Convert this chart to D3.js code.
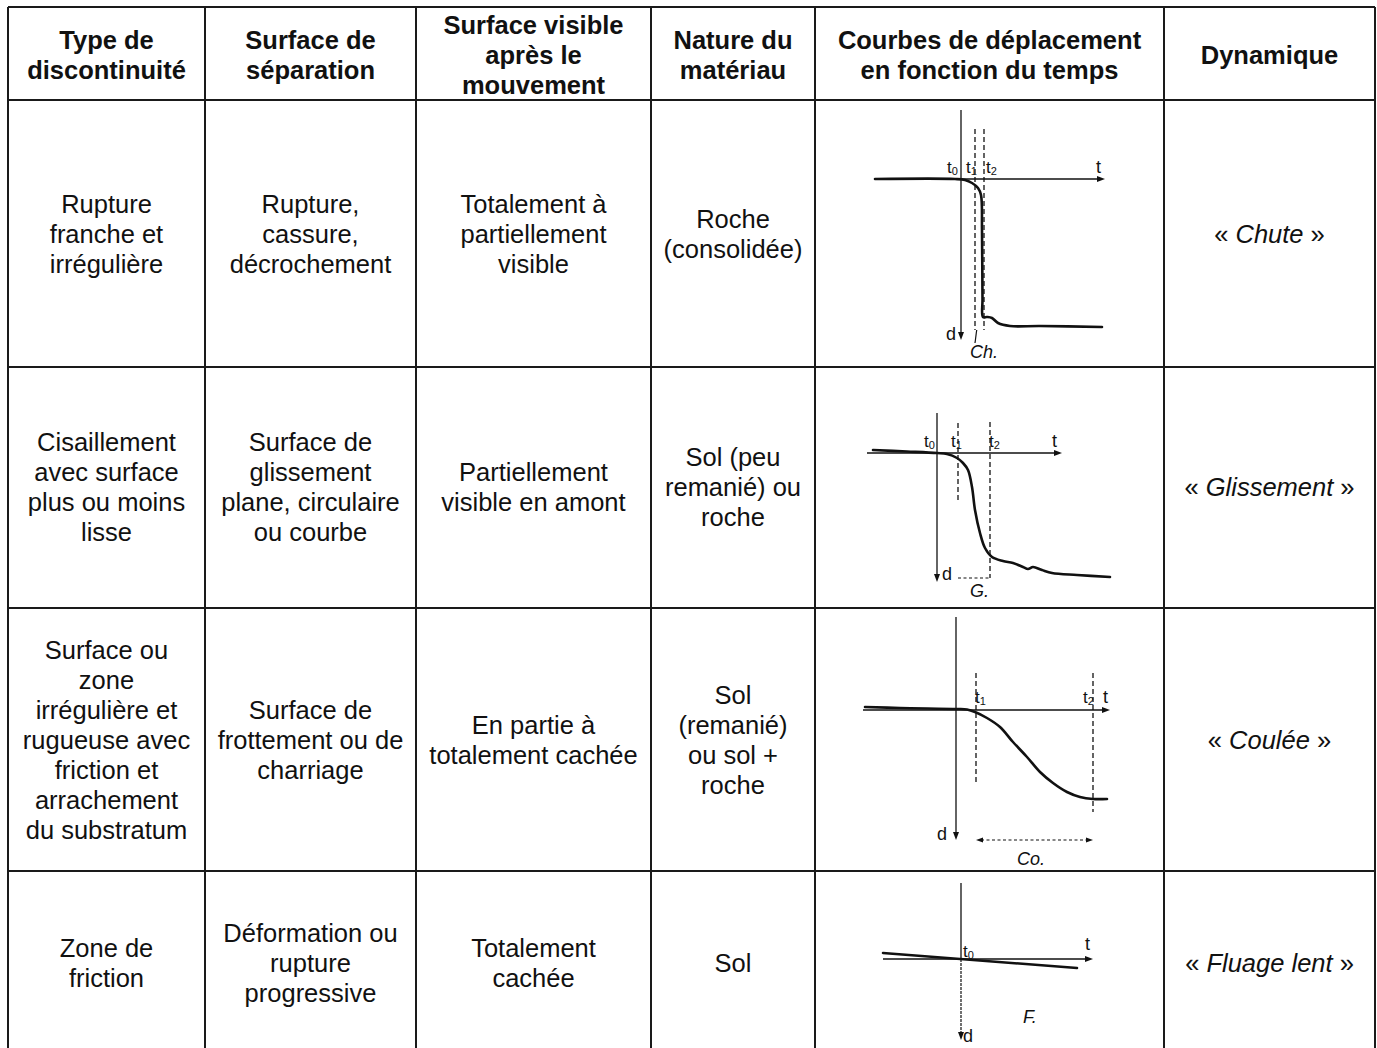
<!DOCTYPE html>
<html>
<head>
<meta charset="utf-8">
<script src="https://cdn.jsdelivr.net/npm/d3@7"></script>
<style>
  html, body { margin: 0; padding: 0; background: #fff; }
  svg { display: block; }
</style>
</head>
<body>
<svg id="chart" width="1377" height="1048"></svg>
<script>
// ---------------- DATA ----------------
const headers = [
  ["Type de", "discontinuité"],
  ["Surface de", "séparation"],
  ["Surface visible", "après le", "mouvement"],
  ["Nature du", "matériau"],
  ["Courbes de déplacement", "en fonction du temps"],
  ["Dynamique"]
];
const typeDiscontinuite = [
  ["Rupture", "franche et", "irrégulière"],
  ["Cisaillement", "avec surface", "plus ou moins", "lisse"],
  ["Surface ou", "zone", "irrégulière et", "rugueuse avec", "friction et", "arrachement", "du substratum"],
  ["Zone de", "friction"]
];
const surfaceSeparation = [
  ["Rupture,", "cassure,", "décrochement"],
  ["Surface de", "glissement", "plane, circulaire", "ou courbe"],
  ["Surface de", "frottement ou de", "charriage"],
  ["Déformation ou", "rupture", "progressive"]
];
const surfaceVisible = [
  ["Totalement à", "partiellement", "visible"],
  ["Partiellement", "visible en amont"],
  ["En partie à", "totalement cachée"],
  ["Totalement", "cachée"]
];
const natureMateriau = [
  ["Roche", "(consolidée)"],
  ["Sol (peu", "remanié) ou", "roche"],
  ["Sol", "(remanié)", "ou sol +", "roche"],
  ["Sol"]
];
const dynamique = ["Chute", "Glissement", "Coulée", "Fluage lent"];
const curveCodes = ["Ch.", "G.", "Co.", "F."];

// displacement curves: [t, d] (t0 = 0, d positive downward)
const chuteCurve = [[-8.6,0],[-0.6,0],[0.4,0.1],[1.1,0.4],[1.7,0.9],[2.0,1.6],[2.1,5.1],[2.15,12],[2.2,13.8],[2.6,13.8],[3.1,13.9],[3.7,14.4],[4.9,14.7],[7.9,14.7],[14.1,14.8]];
const glissementCurve = [[-6.4,-0.3],[-3,-0.15],[0,0],[1.0,0.1],[2.0,0.5],[2.6,1.0],[3.1,1.7],[3.5,3.4],[3.8,5.7],[4.3,8.0],[4.8,9.5],[5.5,10.4],[6.6,10.8],[7.6,11.0],[8.6,11.4],[9.1,11.6],[9.6,11.4],[10.5,11.7],[11.5,12.0],[14.0,12.2],[17.3,12.4]];
const couleeCurve = [[-9.1,-0.3],[-5.6,-0.2],[0.1,-0.1],[1.1,-0.05],[1.9,0.2],[3.1,0.8],[4.4,1.7],[5.7,3.2],[7.1,4.7],[8.4,6.2],[9.7,7.3],[11.1,8.2],[12.4,8.7],[13.7,8.9],[15.1,8.9]];
const fluageCurve = [[-7.8,-0.6],[11.6,0.9]];

// characteristic times t1, t2 per curve
const chuteTimes = [1.4, 2.3];
const glissementTimes = [2.1, 5.3];
const couleeTimes = [2.0, 13.7];

// ---------------- LAYOUT ----------------
const svg = d3.select("#chart");
const colX = [8, 205, 416, 651, 815, 1164, 1375];
const rowY = [7, 100, 367, 608, 871];
const rowCenters = [234, 487, 740, 963];
const headerCenter = 54.5;
const lineH = 30;
const FS = 25.5;
const FONT = "'Liberation Sans', Arial, Helvetica, sans-serif";

// grid
const grid = svg.append("g").attr("stroke", "#1a1a1a").attr("stroke-width", 2);
grid.selectAll("line.v").data(colX).join("line")
  .attr("x1", d => d).attr("x2", d => d).attr("y1", rowY[0]).attr("y2", 1048);
grid.selectAll("line.h").data(rowY).join("line")
  .attr("x1", colX[0]).attr("x2", colX[colX.length - 1]).attr("y1", d => d).attr("y2", d => d);

function colCenter(i) { return (colX[i] + colX[i + 1]) / 2; }

function block(lines, cx, cy, bold) {
  const n = lines.length;
  const t = svg.append("text")
    .attr("font-family", FONT)
    .attr("font-size", FS)
    .attr("font-weight", bold ? "bold" : "normal")
    .attr("text-anchor", "middle")
    .attr("fill", "#111");
  lines.forEach((s, i) => {
    t.append("tspan")
      .attr("x", cx)
      .attr("y", cy + (i - (n - 1) / 2) * lineH)
      .attr("dy", "0.36em")
      .text(s);
  });
}

headers.forEach((h, i) => block(h, colCenter(i), headerCenter, true));
[typeDiscontinuite, surfaceSeparation, surfaceVisible, natureMateriau].forEach((col, ci) => {
  col.forEach((lines, ri) => block(lines, colCenter(ci), rowCenters[ri], false));
});
dynamique.forEach((d, ri) => {
  const t = svg.append("text")
    .attr("font-family", FONT).attr("font-size", FS)
    .attr("text-anchor", "middle").attr("fill", "#111")
    .attr("x", colCenter(5)).attr("y", rowCenters[ri]).attr("dy", "0.36em");
  t.append("tspan").text("« ");
  t.append("tspan").attr("font-style", "italic").text(d);
  t.append("tspan").text(" »");
});

// ---------------- MINI CHARTS ----------------
const PX = 10; // pixels per unit
const charts = [
  { origin: [961, 179], tExt: [-8.6, 14.4], dExt: [-6.9, 16.1], curve: chuteCurve, smooth: true,
    times: chuteTimes, dash: [[-5, 15.1], [-5, 15.1]], span: null,
    labels: [
      { t: -1.4, d: -0.6, base: "t", sub: "0" },
      { t: 0.5, d: -0.6, base: "t", sub: "1" },
      { t: 2.5, d: -0.6, base: "t", sub: "2" },
      { t: 13.5, d: -0.6, base: "t", big: true },
      { t: -1.5, d: 16.1, base: "d", big: true },
      { t: 0.9, d: 17.9, code: 0 }
    ], slash: [[1.57, 15.1], [1.4, 16.4]] },
  { origin: [937, 453], tExt: [-7, 12.5], dExt: [-4, 12.9], curve: glissementCurve, smooth: true,
    times: glissementTimes, dash: [[-3, 4.9], [-3.1, 12.5]], span: { d: 12.5, arrows: false },
    labels: [
      { t: -1.3, d: -0.6, base: "t", sub: "0" },
      { t: 1.4, d: -0.6, base: "t", sub: "1" },
      { t: 5.2, d: -0.6, base: "t", sub: "2" },
      { t: 11.5, d: -0.6, base: "t", big: true },
      { t: 0.5, d: 12.7, base: "d", big: true },
      { t: 3.3, d: 14.4, code: 1 }
    ] },
  { origin: [956, 710], tExt: [-9.3, 15.4], dExt: [-9.3, 13], curve: couleeCurve, smooth: true,
    times: couleeTimes, dash: [[-3.7, 7.5], [-3.7, 10.2]], span: { d: 13, arrows: true },
    labels: [
      { t: 1.9, d: -0.7, base: "t", sub: "1" },
      { t: 12.7, d: -0.7, base: "t", sub: "2" },
      { t: 14.7, d: -0.7, base: "t", big: true },
      { t: -1.9, d: 13, base: "d", big: true },
      { t: 6.1, d: 15.5, code: 2 }
    ] },
  { origin: [961, 959], tExt: [-7.8, 13.2], dExt: [-7.6, 8.1], curve: fluageCurve, smooth: false,
    times: [], dash: [], span: null, dottedBelow: true,
    labels: [
      { t: 0.2, d: -0.2, base: "t", sub: "0" },
      { t: 12.4, d: -0.9, base: "t", big: true },
      { t: 0.2, d: 8.3, base: "d", big: true },
      { t: 6.2, d: 6.4, code: 3 }
    ] }
];

charts.forEach(c => {
  const [ox, oy] = c.origin;
  const x = d3.scaleLinear().domain(c.tExt).range([ox + c.tExt[0] * PX, ox + c.tExt[1] * PX]);
  const y = d3.scaleLinear().domain(c.dExt).range([oy + c.dExt[0] * PX, oy + c.dExt[1] * PX]);
  const g = svg.append("g");
  const ink = "#111";

  // t axis
  g.append("line").attr("x1", x(c.tExt[0])).attr("x2", x(c.tExt[1]) - 4)
    .attr("y1", y(0)).attr("y2", y(0)).attr("stroke", ink).attr("stroke-width", 1.3);
  const ax = x(c.tExt[1]), ay = y(0);
  g.append("path").attr("d", `M${ax},${ay} L${ax - 8},${ay - 3} L${ax - 8},${ay + 3} Z`).attr("fill", ink);

  // d axis
  if (c.dottedBelow) {
    g.append("line").attr("x1", x(0)).attr("x2", x(0)).attr("y1", y(c.dExt[0])).attr("y2", y(0))
      .attr("stroke", ink).attr("stroke-width", 1.3);
    g.append("line").attr("x1", x(0)).attr("x2", x(0)).attr("y1", y(0)).attr("y2", y(c.dExt[1]) - 4)
      .attr("stroke", ink).attr("stroke-width", 1.2).attr("stroke-dasharray", "3,1");
  } else {
    g.append("line").attr("x1", x(0)).attr("x2", x(0)).attr("y1", y(c.dExt[0])).attr("y2", y(c.dExt[1]) - 4)
      .attr("stroke", ink).attr("stroke-width", 1.3);
  }
  const bx = x(0), by = y(c.dExt[1]);
  g.append("path").attr("d", `M${bx},${by} L${bx - 3},${by - 8} L${bx + 3},${by - 8} Z`).attr("fill", ink);

  // dashed time markers
  c.times.forEach((tv, i) => {
    g.append("line").attr("x1", x(tv)).attr("x2", x(tv))
      .attr("y1", y(c.dash[i][0])).attr("y2", y(c.dash[i][1]))
      .attr("stroke", ink).attr("stroke-width", 1.3).attr("stroke-dasharray", "5,3");
  });

  // span between t1 and t2
  if (c.span) {
    const sy = y(c.span.d);
    const x1 = x(c.times[0]), x2 = x(c.times[1]);
    g.append("line").attr("x1", x1 + (c.span.arrows ? 5 : 0)).attr("x2", x2 - (c.span.arrows ? 5 : 0))
      .attr("y1", sy).attr("y2", sy)
      .attr("stroke", ink).attr("stroke-width", 1.2).attr("stroke-dasharray", "3,2.5");
    if (c.span.arrows) {
      g.append("path").attr("d", `M${x1},${sy} L${x1 + 7},${sy - 2.5} L${x1 + 7},${sy + 2.5} Z`).attr("fill", ink);
      g.append("path").attr("d", `M${x2},${sy} L${x2 - 7},${sy - 2.5} L${x2 - 7},${sy + 2.5} Z`).attr("fill", ink);
    }
  }

  if (c.slash) {
    g.append("line").attr("x1", x(c.slash[0][0])).attr("y1", y(c.slash[0][1]))
      .attr("x2", x(c.slash[1][0])).attr("y2", y(c.slash[1][1]))
      .attr("stroke", ink).attr("stroke-width", 1.2);
  }

  // curve
  const line = d3.line().x(d => x(d[0])).y(d => y(d[1]))
    .curve(c.smooth ? d3.curveCatmullRom.alpha(0.5) : d3.curveLinear);
  g.append("path").datum(c.curve).attr("d", line)
    .attr("fill", "none").attr("stroke", ink).attr("stroke-width", 2.6)
    .attr("stroke-linejoin", "round").attr("stroke-linecap", "round");

  // labels
  c.labels.forEach(l => {
    const t = g.append("text").attr("x", x(l.t)).attr("y", y(l.d))
      .attr("font-family", FONT).attr("fill", ink);
    if (l.code !== undefined) {
      t.attr("font-size", 18).attr("font-style", "italic").text(curveCodes[l.code]);
    } else {
      t.attr("font-size", l.big ? 18 : 17);
      t.append("tspan").text(l.base);
      if (l.sub) t.append("tspan").attr("font-size", 11).attr("dy", 2).text(l.sub);
    }
  });
});
</script>
</body>
</html>
